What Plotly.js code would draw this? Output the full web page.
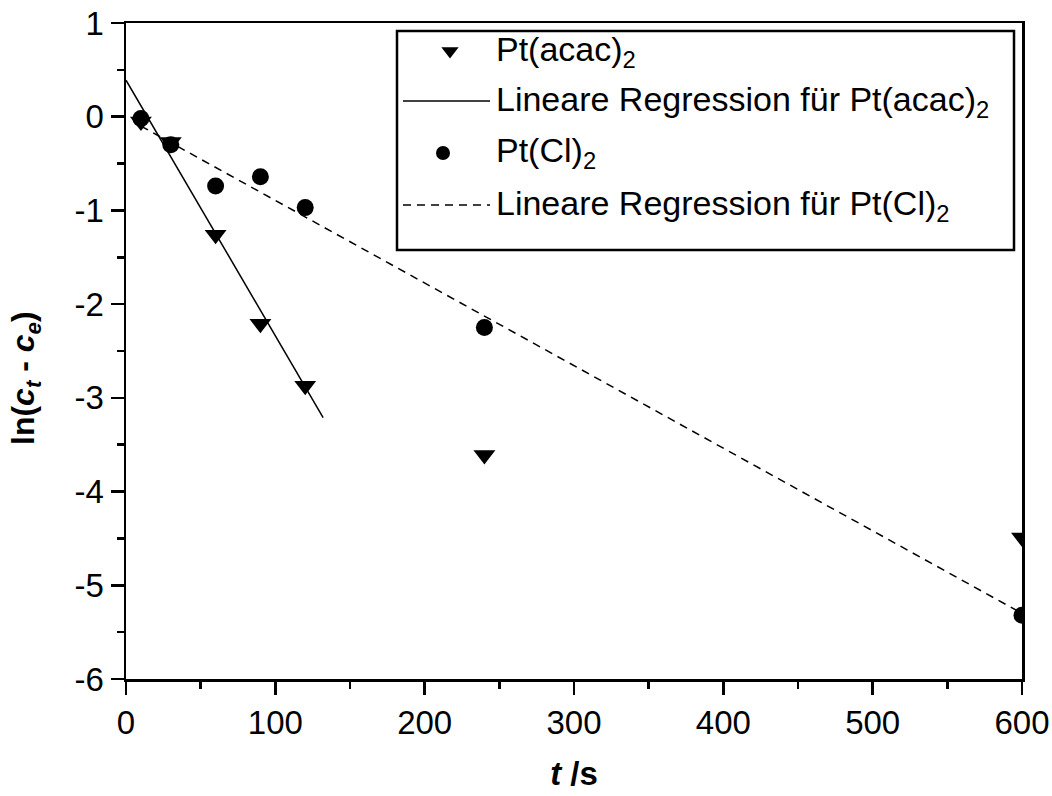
<!DOCTYPE html>
<html>
<head>
<meta charset="utf-8">
<script src="https://cdn.plot.ly/plotly-3.0.1.min.js"></script>
<style>
  html, body { margin: 0; padding: 0; background: #fff; }
  #chart { width: 1052px; height: 796px; }
</style>
</head>
<body>
<div id="chart"></div>
<script>
// Measured data (t in s, ln(c_t - c_e))
const acacT = [10, 30, 60, 90, 120, 240, 600];
const acacY = [-0.05, -0.27, -1.26, -2.21, -2.87, -3.61, -4.49];
const clT = [10, 30, 60, 90, 120, 240, 600];
const clY = [-0.02, -0.30, -0.74, -0.64, -0.97, -2.25, -5.32];
// Linear regression line endpoints
const acacFitT = [0, 132];
const acacFitY = [0.39, -3.21];
const clFitT = [10, 600];
const clFitY = [-0.10, -5.30];

// Tick labels
const yTickVals = [-6, -5, -4, -3, -2, -1, 0, 1];
const yTickText = ['-6', '-5', '-4', '-3', '-2', '-1', '0', '1'];
const xTickVals = [0, 100, 200, 300, 400, 500, 600];
const xTickText = ['0', '100', '200', '300', '400', '500', '600'];

// Legend entries
const legendNames = [
  'Pt(acac)<sub>2</sub>',
  'Lineare Regression für Pt(acac)<sub>2</sub>',
  'Pt(Cl)<sub>2</sub>',
  'Lineare Regression für Pt(Cl)<sub>2</sub>'
];

const FONT = 'Liberation Sans, Arial, sans-serif';

// plot area in pixels: x 126..1022, y 23..679
const PL = 126, PR = 1022, PT = 23, PB = 679;
const px = v => (v - PL) / (PR - PL);
const py = v => (PB - v) / (PB - PT);

const rowY = [51, 101, 153, 205].map(py);

const traces = [
  { x: acacT, y: acacY, mode: 'markers', name: legendNames[0], showlegend: false,
    marker: { symbol: 'triangle-down', size: 19, color: '#000' } },
  { x: acacFitT, y: acacFitY, mode: 'lines', name: legendNames[1], showlegend: false,
    line: { color: '#000', width: 1.5 } },
  { x: clT, y: clY, mode: 'markers', name: legendNames[2], showlegend: false,
    marker: { symbol: 'circle', size: 17, color: '#000' } },
  { x: clFitT, y: clFitY, mode: 'lines', name: legendNames[3], showlegend: false,
    line: { color: '#000', width: 1.5, dash: '8px,6px' } },
  // legend symbols (overlay axes in plot-fraction units)
  { x: [px(450)], y: [rowY[0]], xaxis: 'x2', yaxis: 'y2', mode: 'markers', showlegend: false,
    marker: { symbol: 'triangle-down', size: 15, color: '#000' }, cliponaxis: false },
  { x: [px(403), px(490)], y: [rowY[1], rowY[1]], xaxis: 'x2', yaxis: 'y2', mode: 'lines', showlegend: false,
    line: { color: '#000', width: 1.5 }, cliponaxis: false },
  { x: [px(443)], y: [rowY[2]], xaxis: 'x2', yaxis: 'y2', mode: 'markers', showlegend: false,
    marker: { symbol: 'circle', size: 14, color: '#000' }, cliponaxis: false },
  { x: [px(403), px(490)], y: [rowY[3], rowY[3]], xaxis: 'x2', yaxis: 'y2', mode: 'lines', showlegend: false,
    line: { color: '#000', width: 1.5, dash: '8px,6px' }, cliponaxis: false }
];

const axisCommon = {
  showgrid: false, zeroline: false,
  showline: true, linecolor: '#000', linewidth: 2.5, mirror: true,
  ticks: 'outside', ticklen: 13, tickwidth: 2.5, tickcolor: '#000',
  tickmode: 'array',
  tickfont: { family: FONT, size: 33, color: '#000' }
};

const annotations = legendNames.map((t, i) => ({
  xref: 'paper', yref: 'paper', x: px(494), y: rowY[i],
  xanchor: 'left', yanchor: 'middle', showarrow: false,
  text: t, font: { family: FONT, size: 34, color: '#000' }
}));
annotations.push({
  xref: 'paper', yref: 'paper', x: 0, y: py(378), xshift: -101,
  xanchor: 'center', yanchor: 'middle', showarrow: false, textangle: -90,
  text: '<b>ln(<i>c</i><sub><i>t</i></sub> - <i>c</i><sub><i>e</i></sub>)</b>',
  font: { family: FONT, size: 32, color: '#000' }
});

const layout = {
  width: 1052, height: 796,
  margin: { l: PL, r: 1052 - PR, t: PT, b: 796 - PB },
  paper_bgcolor: '#fff', plot_bgcolor: '#fff',
  font: { family: FONT, color: '#000' },
  showlegend: false,
  xaxis: Object.assign({}, axisCommon, {
    range: [0, 600], tickvals: xTickVals, ticktext: xTickText,
    minor: { ticks: 'outside', ticklen: 7, tickwidth: 2.5, tickcolor: '#000', dtick: 50 },
    title: { text: '<b><i>t</i> /s</b>', font: { size: 33, family: FONT }, standoff: 22 }
  }),
  yaxis: Object.assign({}, axisCommon, {
    range: [-6, 1], tickvals: yTickVals, ticktext: yTickText,
    minor: { ticks: 'outside', ticklen: 7, tickwidth: 2.5, tickcolor: '#000', dtick: 0.5 }
  }),
  xaxis2: { overlaying: 'x', range: [0, 1], visible: false, fixedrange: true },
  yaxis2: { overlaying: 'y', range: [0, 1], visible: false, fixedrange: true },
  shapes: [{
    type: 'rect', xref: 'paper', yref: 'paper',
    x0: px(397), x1: px(1014), y0: py(250), y1: py(31),
    line: { color: '#000', width: 2.5 }, fillcolor: 'rgba(0,0,0,0)', layer: 'above'
  }],
  annotations: annotations
};

Plotly.newPlot('chart', traces, layout, { displayModeBar: false, staticPlot: true });
</script>
</body>
</html>
